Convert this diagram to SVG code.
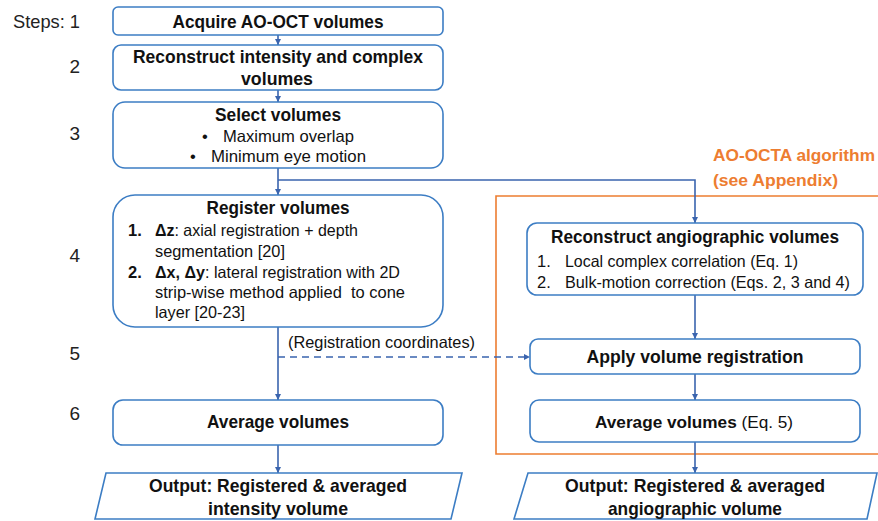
<svg xmlns="http://www.w3.org/2000/svg" width="878" height="521" viewBox="0 0 878 521">
  <defs>
    <marker id="arrow" viewBox="0 0 8 8" refX="8" refY="4" markerWidth="6" markerHeight="6" orient="auto" markerUnits="userSpaceOnUse">
      <path d="M0,0 L8,4 L0,8 z" fill="#3A64AE"/>
    </marker>
    <style>
      .box { fill: #ffffff; stroke: #3C7DC4; stroke-width: 1.6; }
      .io { fill: #ffffff; stroke: #3C7DC4; stroke-width: 1.6; }
      .wire { fill: none; stroke: #3A64AE; stroke-width: 1.6; }
      .dash { stroke-dasharray: 7 5; }
      .t { font-family: "Liberation Sans", Arial, sans-serif; fill: #111111; }
      .b { font-weight: bold; font-size: 19px; }
      .r { font-size: 16.5px; }
      .step { font-family: "Liberation Sans", Arial, sans-serif; font-size: 19px; fill: #222222; }
      .orange { font-family: "Liberation Sans", Arial, sans-serif; font-weight: bold; font-size: 17px; fill: #ED7D31; }
    </style>
  </defs>

  <!-- step numbers -->
  <g id="steps">
    <text class="step" x="80" y="28" text-anchor="end" textLength="67" lengthAdjust="spacingAndGlyphs">Steps: 1</text>
    <text class="step" x="80" y="73" text-anchor="end">2</text>
    <text class="step" x="80" y="140" text-anchor="end">3</text>
    <text class="step" x="80" y="262" text-anchor="end">4</text>
    <text class="step" x="80" y="360" text-anchor="end">5</text>
    <text class="step" x="80" y="420" text-anchor="end">6</text>
  </g>

  <!-- AO-OCTA algorithm frame -->
  <g id="octa-frame">
    <path d="M878,196 L496,196 L496,454 L878,454" fill="none" stroke="#ED7D31" stroke-width="1.6"/>
    <text class="orange" x="713" y="161" textLength="162" lengthAdjust="spacingAndGlyphs">AO-OCTA algorithm</text>
    <text class="orange" x="713" y="186" textLength="125" lengthAdjust="spacingAndGlyphs">(see Appendix)</text>
  </g>

  <!-- connectors -->
  <g id="connectors">
    <line class="wire" x1="278" y1="35" x2="278" y2="45" marker-end="url(#arrow)"/>
    <line class="wire" x1="278" y1="90" x2="278" y2="102" marker-end="url(#arrow)"/>
    <line class="wire" x1="278" y1="168" x2="278" y2="195" marker-end="url(#arrow)"/>
    <path class="wire" d="M278,180 L695,180 L695,223" marker-end="url(#arrow)"/>
    <line class="wire" x1="278" y1="327" x2="278" y2="400" marker-end="url(#arrow)"/>
    <line class="wire dash" x1="278" y1="357" x2="530" y2="357" marker-end="url(#arrow)"/>
    <line class="wire" x1="278" y1="445" x2="278" y2="473" marker-end="url(#arrow)"/>
    <line class="wire" x1="695" y1="295" x2="695" y2="339" marker-end="url(#arrow)"/>
    <line class="wire" x1="695" y1="374" x2="695" y2="400" marker-end="url(#arrow)"/>
    <line class="wire" x1="695" y1="442" x2="695" y2="473" marker-end="url(#arrow)"/>
    <text class="t r" x="288" y="348" textLength="187" lengthAdjust="spacingAndGlyphs">(Registration coordinates)</text>
  </g>

  <g id="acquire">
    <rect class="box" x="113" y="7" width="330" height="28" rx="5"/>
    <text class="t b" x="278" y="27.5" text-anchor="middle" textLength="211" lengthAdjust="spacingAndGlyphs">Acquire AO-OCT volumes</text>
  </g>

  <g id="reconstruct">
    <rect class="box" x="113" y="45" width="330" height="45" rx="8"/>
    <text class="t b" x="278" y="63" text-anchor="middle" textLength="290" lengthAdjust="spacingAndGlyphs">Reconstruct intensity and complex</text>
    <text class="t b" x="277" y="85" text-anchor="middle" textLength="72" lengthAdjust="spacingAndGlyphs">volumes</text>
  </g>

  <g id="select">
    <rect class="box" x="113" y="102" width="330" height="66" rx="12"/>
    <text class="t b" x="278" y="121" text-anchor="middle" textLength="126" lengthAdjust="spacingAndGlyphs">Select volumes</text>
    <text class="t r" x="202" y="142">•</text>
    <text class="t r" x="223" y="142" textLength="131" lengthAdjust="spacingAndGlyphs">Maximum overlap</text>
    <text class="t r" x="190" y="162">•</text>
    <text class="t r" x="211" y="162" textLength="155" lengthAdjust="spacingAndGlyphs">Minimum eye motion</text>
  </g>

  <g id="register">
    <rect class="box" x="113" y="195" width="330" height="132" rx="22"/>
    <text class="t b" x="278" y="214" text-anchor="middle" textLength="143" lengthAdjust="spacingAndGlyphs">Register volumes</text>
    <text class="t r" x="128" y="236" font-weight="bold">1.</text>
    <text class="t r" x="155" y="236" textLength="203" lengthAdjust="spacingAndGlyphs"><tspan font-weight="bold">Δz</tspan>: axial registration + depth</text>
    <text class="t r" x="155" y="257" textLength="130" lengthAdjust="spacingAndGlyphs">segmentation [20]</text>
    <text class="t r" x="128" y="278" font-weight="bold">2.</text>
    <text class="t r" x="155" y="278" textLength="245" lengthAdjust="spacingAndGlyphs"><tspan font-weight="bold">Δx, Δy</tspan>: lateral registration with 2D</text>
    <text class="t r" x="155" y="298" textLength="250" lengthAdjust="spacingAndGlyphs" style="white-space:pre">strip-wise method applied  to cone</text>
    <text class="t r" x="155" y="318" textLength="90" lengthAdjust="spacingAndGlyphs">layer [20-23]</text>
  </g>

  <g id="average">
    <rect class="box" x="113" y="400" width="330" height="45" rx="10"/>
    <text class="t b" x="278" y="428" text-anchor="middle" textLength="142" lengthAdjust="spacingAndGlyphs">Average volumes</text>
  </g>

  <g id="output-intensity">
    <polygon class="io" points="106,473 462,473 451,519 95,519"/>
    <text class="t b" x="278" y="492" text-anchor="middle" textLength="258" lengthAdjust="spacingAndGlyphs">Output: Registered &amp; averaged</text>
    <text class="t b" x="278" y="515" text-anchor="middle" textLength="140" lengthAdjust="spacingAndGlyphs">intensity volume</text>
  </g>

  <g id="angio">
    <rect class="box" x="527" y="223" width="336" height="72" rx="10"/>
    <text class="t b" x="695" y="243" text-anchor="middle" textLength="288" lengthAdjust="spacingAndGlyphs">Reconstruct angiographic volumes</text>
    <text class="t r" x="537" y="267">1.</text>
    <text class="t r" x="565" y="267" textLength="233" lengthAdjust="spacingAndGlyphs">Local complex correlation (Eq. 1)</text>
    <text class="t r" x="537" y="288">2.</text>
    <text class="t r" x="565" y="288" textLength="285" lengthAdjust="spacingAndGlyphs">Bulk-motion correction (Eqs. 2, 3 and 4)</text>
  </g>

  <g id="apply">
    <rect class="box" x="530" y="339" width="330" height="35" rx="8"/>
    <text class="t b" x="695" y="363" text-anchor="middle" textLength="217" lengthAdjust="spacingAndGlyphs">Apply volume registration</text>
  </g>

  <g id="average-angio">
    <rect class="box" x="530" y="400" width="330" height="42" rx="9"/>
    <text class="t" x="595" y="428" font-size="17.2"><tspan font-weight="bold">Average volumes </tspan><tspan>(Eq. 5)</tspan></text>
  </g>

  <g id="output-angio">
    <polygon class="io" points="528,473 877,473 867,519 514,519"/>
    <text class="t b" x="695" y="492" text-anchor="middle" textLength="260" lengthAdjust="spacingAndGlyphs">Output: Registered &amp; averaged</text>
    <text class="t b" x="695" y="515" text-anchor="middle" textLength="174" lengthAdjust="spacingAndGlyphs">angiographic volume</text>
  </g>
</svg>
